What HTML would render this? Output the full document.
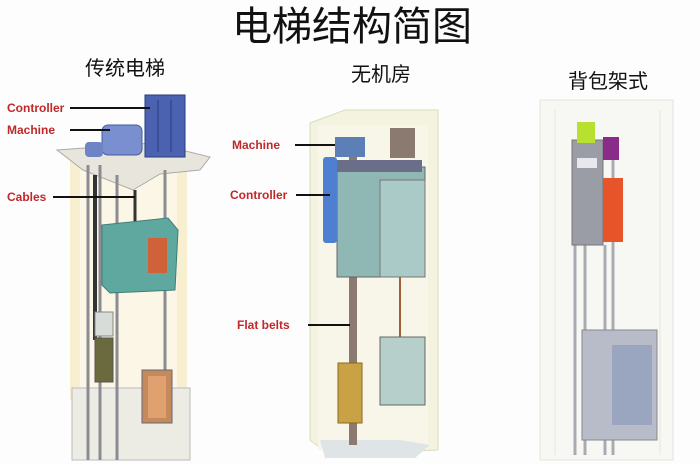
<!DOCTYPE html>
<html><head><meta charset="utf-8"><style>
html,body{margin:0;padding:0;background:#fff;}
svg{display:block;}
.cn{font-family:"Liberation Sans","Noto Sans CJK SC",sans-serif;fill:#111;}
.lb{font-family:"Liberation Sans",sans-serif;font-weight:bold;font-size:12px;fill:#c0282a;}
</style></head><body>
<svg width="700" height="465" viewBox="0 0 700 465" xmlns="http://www.w3.org/2000/svg">
<rect width="700" height="465" fill="#fdfdfd"/>

<!-- LEFT traditional -->
<rect x="70" y="160" width="117" height="240" fill="#f7efd0"/>
<rect x="80" y="160" width="97" height="240" fill="#fbf6e6"/>
<polygon points="72,388 190,388 190,460 72,460" fill="#ecebe4" stroke="#bbb"/>
<polygon points="57,150 153,143 210,157 200,170 160,174 133,190 83,170" fill="#e8e6dc" stroke="#aaa"/>
<g stroke="#8a8c92" stroke-width="3">
<line x1="88" y1="165" x2="88" y2="460"/><line x1="100" y1="165" x2="100" y2="460"/>
<line x1="117" y1="175" x2="117" y2="460"/><line x1="165" y1="170" x2="165" y2="400"/>
</g>
<line x1="95" y1="175" x2="95" y2="340" stroke="#333" stroke-width="4"/>
<line x1="135" y1="190" x2="135" y2="225" stroke="#333" stroke-width="3"/>
<rect x="145" y="95" width="40" height="62" fill="#4a62b0" stroke="#2b3c80"/>
<line x1="158" y1="100" x2="158" y2="152" stroke="#2b3c80"/><line x1="171" y1="100" x2="171" y2="152" stroke="#2b3c80"/>
<rect x="102" y="125" width="40" height="30" rx="6" fill="#7a8fd0" stroke="#485a9a"/>
<rect x="85" y="142" width="18" height="15" rx="4" fill="#6e84c6"/>
<polygon points="102,225 168,218 178,230 175,290 110,293 102,285" fill="#5fa8a0" stroke="#3f7e78"/>
<rect x="148" y="238" width="19" height="35" fill="#d0623a"/>
<rect x="95" y="338" width="18" height="44" fill="#6b6a3e" stroke="#555"/>
<rect x="95" y="312" width="18" height="24" fill="#d8dcd8" stroke="#888"/>
<rect x="142" y="370" width="30" height="53" fill="#c58a5c" stroke="#667"/>
<rect x="148" y="376" width="18" height="42" fill="#e0a070"/>
<text class="lb" x="7" y="112">Controller</text>
<line x1="70" y1="108" x2="150" y2="108" stroke="#111" stroke-width="2"/>
<text class="lb" x="7" y="134">Machine</text>
<line x1="70" y1="130" x2="110" y2="130" stroke="#111" stroke-width="2"/>
<text class="lb" x="7" y="201">Cables</text>
<line x1="53" y1="197" x2="135" y2="197" stroke="#111" stroke-width="2"/>

<!-- MIDDLE MRL -->
<polygon points="310,123 345,110 438,110 438,450 330,455 310,440" fill="#f4f3e0" stroke="#d8dcc0"/>
<rect x="318" y="125" width="110" height="325" fill="#f8f6e8"/>
<polygon points="320,440 400,440 430,445 415,458 325,458" fill="#dfe4e6"/>
<line x1="353" y1="150" x2="353" y2="445" stroke="#8a7a70" stroke-width="8"/>
<line x1="400" y1="270" x2="400" y2="340" stroke="#a0603a" stroke-width="2"/>
<rect x="337" y="167" width="88" height="110" fill="#8fb8b4" stroke="#666"/>
<rect x="380" y="180" width="45" height="97" fill="#a9cac6" stroke="#777"/>
<rect x="337" y="160" width="85" height="12" fill="#6a6e88"/>
<rect x="335" y="137" width="30" height="20" fill="#5d7fb8"/>
<rect x="390" y="128" width="25" height="30" fill="#8a7a70"/>
<rect x="323" y="157" width="14" height="86" rx="3" fill="#4f7fd0"/>
<rect x="338" y="363" width="24" height="60" fill="#c9a246" stroke="#8a6a20"/>
<rect x="380" y="337" width="45" height="68" fill="#b6cfcb" stroke="#666"/>
<text class="lb" x="232" y="149">Machine</text>
<line x1="295" y1="145" x2="335" y2="145" stroke="#111" stroke-width="2"/>
<text class="lb" x="230" y="199">Controller</text>
<line x1="296" y1="195" x2="330" y2="195" stroke="#111" stroke-width="2"/>
<text class="lb" x="237" y="329">Flat belts</text>
<line x1="308" y1="325" x2="350" y2="325" stroke="#111" stroke-width="2"/>

<!-- RIGHT backpack -->
<rect x="540" y="100" width="133" height="360" fill="#f7f8f4" stroke="#e2e4dc"/>
<line x1="555" y1="110" x2="555" y2="455" stroke="#e4e6de"/>
<line x1="660" y1="110" x2="660" y2="455" stroke="#e4e6de"/>
<g stroke="#a9abb2" stroke-width="3">
<line x1="575" y1="245" x2="575" y2="455"/><line x1="585" y1="245" x2="585" y2="455"/>
<line x1="605" y1="245" x2="605" y2="455"/><line x1="613" y1="160" x2="613" y2="455"/>
</g>
<rect x="572" y="140" width="31" height="105" fill="#9a9ca6" stroke="#777"/>
<rect x="577" y="158" width="20" height="10" fill="#e8e8ec"/>
<rect x="577" y="122" width="18" height="21" fill="#b8e030"/>
<rect x="603" y="137" width="16" height="23" fill="#8a2b8a"/>
<rect x="603" y="178" width="20" height="64" fill="#e8542a"/>
<rect x="582" y="330" width="75" height="110" fill="#b8bcc8" stroke="#888"/>
<rect x="612" y="345" width="40" height="80" fill="#9aa6c0"/>

<text class="cn" x="352" y="40" font-size="40" text-anchor="middle">电梯结构简图</text>
<text class="cn" x="125" y="75" font-size="20" text-anchor="middle">传统电梯</text>
<text class="cn" x="381" y="81" font-size="20" text-anchor="middle">无机房</text>
<text class="cn" x="608" y="88" font-size="20" text-anchor="middle">背包架式</text>
</svg>
</body></html>
